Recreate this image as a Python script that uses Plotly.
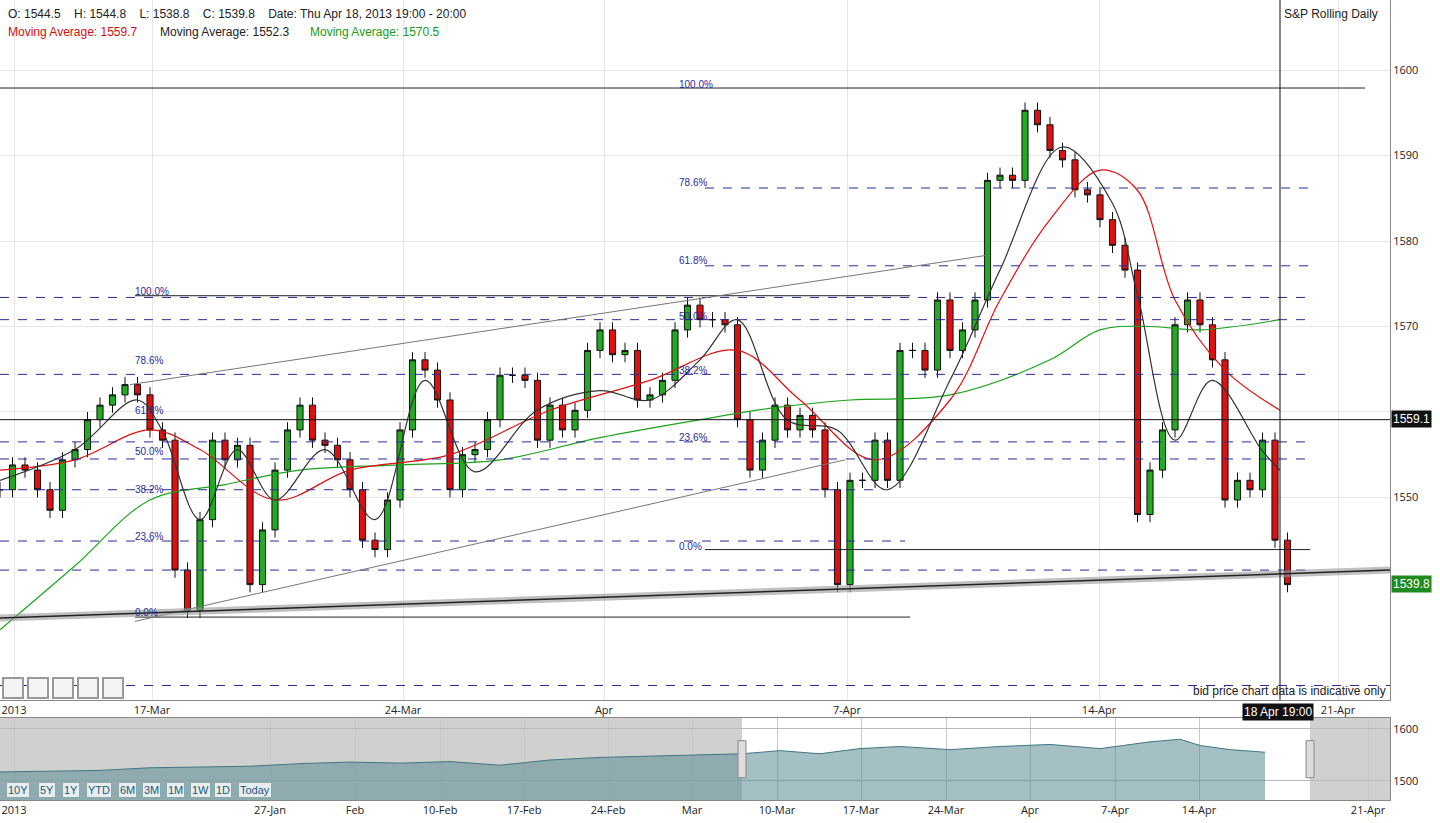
import plotly.graph_objects as go

# ---------------- data ----------------
closes = [1550.9,1553.8,1553.2,1550.9,1548.5,1554.4,1555.6,1559.1,1560.8,1562,1563.2,1562,1557.9,1556.7,
          1541.5,1536.8,1547.4,1556.7,1554.4,1556.1,1539.8,1546.2,1553.2,1557.9,1560.8,1556.7,1556.1,1554.4,
          1550.9,1545,1543.9,1549.7,1557.9,1566.1,1564.9,1561.4,1550.9,1555,1555.6,1559.1,1564.3,1564.3,
          1563.7,1556.7,1560.8,1557.9,1560.2,1567.2,1569.6,1566.7,1567.2,1561.4,1562,1563.7,1569.6,1572.5,
          1570.8,1570.8,1570.2,1559.1,1553.2,1556.7,1560.8,1557.9,1559.6,1557.9,1550.9,1539.8,1552,1552,
          1556.7,1552,1567.2,1567.2,1564.9,1573.1,1567.2,1569.6,1573.1,1587.1,1587.7,1587.1,1595.3,1593.6,
          1590.6,1589.5,1586,1585.4,1582.5,1579.5,1576.6,1548,1553.2,1557.9,1570.2,1573.1,1570.2,1566.1,
          1549.7,1552,1550.9,1556.7,1545,1539.8]
STEP = 0.25  # trading days per candle

ma_fast_x = [0,1.5,2.74,3.24,4,4.74,5.5,6.5,7.5,8.5,9.5,10.74,12,13,14,14.74,15.74,16.74,17.74,19,20,21.24,22.24,22.74,23.5,24.24,25.24,25.6]
ma_fast_y = [1552,1555.6,1561.4,1557.9,1547.4,1555.6,1549.7,1555.6,1547.4,1563.7,1553,1560.2,1562.5,1561.4,1566.1,1570.8,1559.1,1557.9,1550.9,1563.7,1576.6,1591,1584.5,1574,1556.7,1563.7,1555.5,1553.2]
ma_red_x = [0,1.5,3,4,5.5,7,9,11,13,14.74,16,17.5,19,20,21,22,22.74,23.5,24.5,25.6]
ma_red_y = [1553.2,1554.4,1557.9,1555.6,1549.7,1553.2,1555,1560.2,1563.7,1567.2,1561.4,1554.4,1561.4,1573.1,1582.5,1588.3,1586,1573.1,1564.9,1560.2]
ma_green_x = [0,1.5,3,4.5,6,8,10,12,14,15.5,17,19,21,22,23,24,25.6]
ma_green_y = [1534.5,1542,1549.7,1551.5,1553.2,1553.8,1554.4,1557,1559.1,1560.5,1561.4,1562,1566.1,1569.6,1570,1569.6,1570.8]

fib_levels = [1597.9,1586.2,1577.1,1573.4,1570.8,1564.4,1556.5,1554.5,1550.9,1544.9,1541.5,1528.0]
main_ticks_x = [0.28,3.04,8.06,12.08,16.94,21.98,26.76]
main_ticks_t = ["2013","17-Mar","24-Mar","Apr","7-Apr","14-Apr","21-Apr"]

nav_x = [0,50,100,150,200,250,300,350,400,450,500,550,600,650,700,742,780,820,860,900,950,1000,1050,1100,1150,1180,1200,1230,1265]
nav_y = [1517,1518,1520,1525,1527,1528,1533,1536,1534,1537,1530,1540,1545,1547,1550,1552,1558,1552,1562,1566,1560,1566,1570,1562,1575,1580,1568,1560,1555]
nav_ticks_x = [14,270,355,440,524,608,692,777,861,946,1030,1115,1199,1368]
nav_ticks_t = ["2013","27-Jan","Feb","10-Feb","17-Feb","24-Feb","Mar","10-Mar","17-Mar","24-Mar","Apr","7-Apr","14-Apr","21-Apr"]

# ---------------- build ----------------
xs = [i * STEP for i in range(len(closes))]
opens = [closes[0]] + closes[:-1]
highs = [max(o, c) + 0.9 for o, c in zip(opens, closes)]
lows = [min(o, c) - 0.9 for o, c in zip(opens, closes)]

fig = go.Figure()
fig.add_trace(go.Candlestick(x=xs, open=opens, high=highs, low=lows, close=closes,
    increasing=dict(line=dict(color="#111", width=1), fillcolor="#22aa22"),
    decreasing=dict(line=dict(color="#111", width=1), fillcolor="#dd1111"),
    whiskerwidth=0, showlegend=False, xaxis="x", yaxis="y"))
fig.add_trace(go.Scatter(x=ma_green_x, y=ma_green_y, mode="lines", line=dict(color="#1aa31a", width=1.2, shape="spline"), showlegend=False))
fig.add_trace(go.Scatter(x=ma_red_x, y=ma_red_y, mode="lines", line=dict(color="#e01010", width=1.2, shape="spline"), showlegend=False))
fig.add_trace(go.Scatter(x=ma_fast_x, y=ma_fast_y, mode="lines", line=dict(color="#333", width=1.2, shape="spline"), showlegend=False))

fig.add_trace(go.Scatter(x=nav_x, y=nav_y, mode="lines", fill="tozeroy", line=dict(color="#3f7780", width=1),
    fillcolor="rgba(90,140,150,0.55)", showlegend=False, xaxis="x2", yaxis="y2"))

PX = 1 / 50.0
shapes = []
def ln(x0, y0, x1, y1, color="#333", w=1, dash=None, ref="x"):
    shapes.append(dict(type="line", x0=x0, y0=y0, x1=x1, y1=y1, xref=ref, yref="y",
                       line=dict(color=color, width=w, dash=dash)))
dashes = [(0, 1365), (705, 1310), (705, 1310), (0, 1310), (0, 1310), (0, 1310),
          (0, 1310), (0, 1310), (0, 880), (0, 905), (0, 1310), (0, 1390)]
for i, (lv, (a, b)) in enumerate(zip(fib_levels, dashes)):
    if i == 0:
        ln(a*PX, lv, b*PX, lv, "#222", 1)
    else:
        ln(a*PX, lv, b*PX, lv, "#2a2a9a", 1, "dash")
ln(705*PX, 1543.9, 1310*PX, 1543.9, "#222")
ln(135*PX, 1536.0, 910*PX, 1536.0, "#222")
ln(135*PX, 1573.6, 910*PX, 1573.6, "#222")
ln(0, 1559.1, 1390*PX, 1559.1, "#111")
ln(130*PX, 1563.2, 985*PX, 1578.3, "#777")
ln(135*PX, 1535.5, 845*PX, 1554.4, "#777")
ln(0, 1535.9, 1390*PX, 1541.5, "rgba(150,150,150,0.6)", 7)
ln(0, 1535.9, 1390*PX, 1541.5, "#222", 1.5)
shapes.append(dict(type="line", x0=1280*PX, x1=1280*PX, y0=1-700/823, y1=1, xref="x", yref="paper", line=dict(color="#111", width=1)))
shapes.append(dict(type="rect", x0=0, x1=742, y0=0.028, y1=0.1276, xref="x2", yref="paper", fillcolor="rgba(120,120,120,0.35)", line=dict(width=0), layer="below"))
shapes.append(dict(type="rect", x0=1310, x1=1390, y0=0.028, y1=0.1276, xref="x2", yref="paper", fillcolor="rgba(120,120,120,0.35)", line=dict(width=0), layer="below"))
for xh in (742, 1310):
    shapes.append(dict(type="rect", x0=xh-4, x1=xh+4, y0=0.055, y1=0.1, xref="x2", yref="paper", fillcolor="#ddd", line=dict(color="#888", width=1)))

ann = []
def txt(x, y, s, color="#222", size=12, xa="left", xref="paper", yref="paper", **kw):
    ann.append(dict(x=x, y=y, text=s, showarrow=False, xref=xref, yref=yref, xanchor=xa, yanchor="middle",
                    font=dict(color=color, size=size, family="Arial"), **kw))
W, H = 1440, 823
def P(px, py): return px / W, 1 - py / H
txt(*P(6, 14), "O: 1544.5    H: 1544.8    L: 1538.8    C: 1539.8    Date: Thu Apr 18, 2013 19:00 - 20:00")
txt(*P(6, 32), "Moving Average: 1559.7", color="#d01010")
txt(*P(158, 32), "Moving Average: 1552.3")
txt(*P(308, 32), "Moving Average: 1570.5", color="#1a9a1a")
txt(*P(1282, 14), "S&P Rolling Daily")
txt(*P(1388, 691), "bid price chart data is indicative only", xa="right")
fibA = [("100.0%",291),("78.6%",360),("61.8%",411),("50.0%",451),("38.2%",489),("23.6%",536),("0.0%",612)]
fibB = [("100.0%",85),("78.6%",182),("61.8%",261),("50.0%",316),("38.2%",370),("23.6%",437),("0.0%",546)]
for s, y in fibA: txt(*P(133, y), s, color="#2a2a9a", size=10)
for s, y in fibB: txt(*P(677, y), s, color="#2a2a9a", size=10)
txt(*P(1391, 419), "1559.1", color="white", bgcolor="#111", size=12)
txt(*P(1391, 584), "1539.8", color="white", bgcolor="#1f8a1f", size=12)
txt(*P(1242, 712), "18 Apr 19:00", color="white", bgcolor="#111", size=12)
x0 = 6
for b in ["10Y","5Y","1Y","YTD","6M","3M","1M","1W","1D","Today"]:
    txt(*P(x0, 790), b, color="#1a5a7a", size=11, bgcolor="#e8eef0", bordercolor="#8aa", borderpad=1)
    x0 += len(b) * 8 + 8
for i in range(5):
    shapes.append(dict(type="rect", xref="paper", yref="paper", x0=(3+i*25)/W, x1=(23+i*25)/W,
                       y0=1-698/H, y1=1-678/H, line=dict(color="#999"), fillcolor="#f4f4f4"))

fig.update_layout(
    width=1440, height=823, margin=dict(l=0, r=0, t=0, b=0),
    paper_bgcolor="white", plot_bgcolor="white", shapes=shapes, annotations=ann,
    xaxis=dict(domain=[0, 1390/1440], range=[0, 1390*PX], rangeslider=dict(visible=False),
               tickvals=main_ticks_x, ticktext=main_ticks_t, showgrid=True, gridcolor="#e6e6e6",
               showline=True, linecolor="#888", mirror=True, tickfont=dict(size=11, color="#222"), ticks=""),
    yaxis=dict(domain=[1-700/823, 1], range=[1526.3, 1608.2], side="right", tickvals=[1550,1560,1570,1580,1590,1600],
               ticktext=["1550","","1570","1580","1590","1600"], showgrid=True, gridcolor="#e6e6e6",
               showline=True, linecolor="#888", mirror=True, tickfont=dict(size=11, color="#222")),
    xaxis2=dict(domain=[0, 1390/1440], range=[0, 1390], anchor="y2", tickvals=nav_ticks_x, ticktext=nav_ticks_t,
                showgrid=True, gridcolor="#c8c8c8", showline=True, linecolor="#888", mirror=True,
                tickfont=dict(size=11, color="#222")),
    yaxis2=dict(domain=[0.028, 0.1276], range=[1463, 1621], side="right", anchor="x2", tickvals=[1500,1600],
                showgrid=True, gridcolor="#bbb", tickfont=dict(size=11, color="#222"), showline=True, linecolor="#888", mirror=True),
)
fig.write_html("out.html", config={"displayModeBar": False})
with open("out.html", encoding="utf-8") as f:
    html = f.read()
html = html.replace("<body>", '<body style="margin:0;overflow:hidden">', 1)
with open("out.html", "w", encoding="utf-8") as f:
    f.write(html)
